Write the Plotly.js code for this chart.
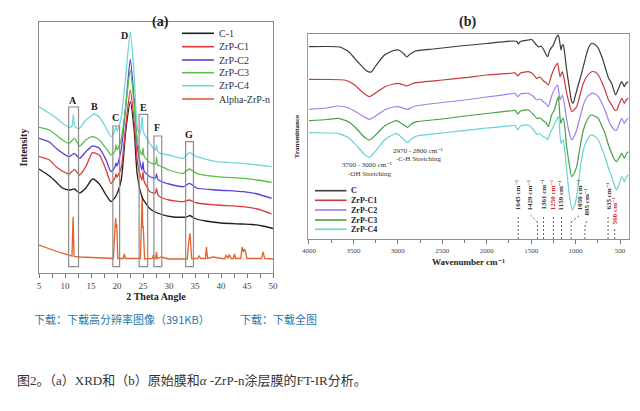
<!DOCTYPE html>
<html><head><meta charset="utf-8">
<script src="https://cdn.plot.ly/plotly-3.0.1.min.js"></script>
<style>html,body{margin:0;padding:0;background:#fff;}#chart{width:640px;height:411px;}</style>
</head><body><div id="chart"></div>
<script>
// ---------- (a) XRD data: 2-theta (deg) and intensity (a.u.) ----------
const xrdNames = ['C-1','ZrP-C1','ZrP-C2','ZrP-C3','ZrP-C4','Alpha-ZrP-n'];
const c1X = [5,7,8.3,9.5,10.8,11.8,12.8,14,15.3,16.6,17.9,18.85,19.8,20.8,21.7,22.56,23.3,23.9,24.9,26.4,28.3,30.8,33.4,34,35,37,40,44,46,48,50];
const c1Y = [104,97,91,85,83,84,80,85,94,89,78,71.3,77,93,143,171.3,143,98,75,64,59,56,56,57.5,54.5,52,50,49,48.5,47,44.5];
const zrpX = [5,7,8.3,9.5,10.8,11.8,12.8,14,15.3,16.6,17.9,18.85,19.6,19.8,20.0,20.8,21.7,22.56,23.3,24,24.8,25.0,25.2,26.35,27.4,27.6,27.8,28.3,30,32.75,33.9,35.3,39.2,44.3,47,49.75];
const zrpC1Y = [116.3,113,106.3,102,99,103.7,98,106.3,120.3,118,103,89.7,95,99,96,105,148,183,151,108,93,101,92,81.3,80,84.7,79,76,73,71.3,73,70,68,66.3,64,59];
const zrpC2Y = [134.7,131,124.7,120,116.3,119.7,114.7,121.3,127,124.7,113,101.3,106,110,107,123,168,213.7,173,123,103,111,102,96.3,95,99,94,92,89,86.3,89.7,85,83,81.3,79,74.7];
const zrpC3Y = [145.7,143,138,133,129.7,134.7,127,133,136.3,133,124.7,118,122,128,123,133,168,203,168,128,118,125,117,110.3,109,116,108,107,103,99.7,104,99.7,96.3,94.7,93,90.7];
const c4X = [5,7,8.3,9.5,10.8,11.35,11.6,11.85,12.3,12.8,14,15.3,15.6,16.6,17.9,18.85,19.55,19.8,20.05,20.8,21.7,22.56,23.3,24,24.5,24.8,25.1,25.9,26.5,27.4,27.6,27.8,28.3,30,32.75,33.9,35.3,39.2,44.3,47,49.75];
const c4Y = [166.3,159.7,155,149.7,145.7,147,158,147,145,144.7,153,158,159,156,145,136.3,142,146.3,142,155,198,241.3,198,143,140,156.3,141,133,128,123,128,122,119.7,118,114.7,120.3,116.3,111.3,109.7,108,106.3];
const alphaX = [5,7,9,10.8,11.35,11.55,11.75,13,16,19.3,19.55,19.75,19.85,19.95,20.15,21.2,21.4,21.6,24.5,24.7,24.85,24.95,25.05,25.3,26.8,27.0,27.2,27.45,27.6,27.75,28.5,30,33.5,33.75,33.9,34.0,34.1,34.35,35.5,35.8,36.1,37.0,37.2,37.4,38.5,40.7,41.0,41.3,41.6,41.9,42.4,42.6,42.8,43.8,44.05,44.3,44.5,44.7,45.0,47.8,48.1,48.4,50];
const alphaY = [28,24,20.5,18,17,56.3,16.5,16,15,14.5,38,55,45,49,14.5,14.5,19,14.5,14.5,43,77,45,47,14,14.5,18,14.5,14.5,21.3,14.5,16,14,14,28,35,39.7,36,14.5,14.5,17,14.5,14.5,26,14.5,16,14,18,14.5,18.5,14.5,14.5,19,14.5,14.5,26,21,24,22,14.5,14.5,21,14.5,14];
// peak boxes
const boxNames = ['A','C','E','F','G'];
const boxFrom = [10.7,19.2,24.25,27.1,33.2];
const boxTo = [12.6,20.5,25.9,28.6,34.7];
const boxTop = [166,147,158.7,137,131.3];
const boxBottom = 6.3;
const peakNames = ['A','B','C','D','E','F','G'];
const peakX = [11.6,15.6,19.7,21.4,25.1,27.75,33.9];
const peakY = [173,167,155.7,238,165.7,145.3,138.7];

// ---------- (b) FT-IR data: wavenumber (cm-1) and transmittance (a.u.) ----------
const irNames = ['C','ZrP-C1','ZrP-C2','ZrP-C3','ZrP-C4'];
const irCX = [4000,3800,3650,3550,3450,3350,3300,3250,3150,3050,2990,2930,2900,2860,2800,2600,2300,2000,1700,1660,1645,1620,1530,1494,1450,1420,1390,1363,1330,1314,1290,1250,1220,1194,1175,1164,1150,1138,1120,1100,1070,1044,1026,1007,970,932,900,875,850,819,790,744,700,669,630,594,550,510,481,465,452,430,407];
const irCY = [192.3,192.5,192,187,177,168,167,173,184,188.5,189,185,182,185,188,190,193,195.5,198,197.5,195,197.5,199,199.5,195,192,193,190,184,182.3,189,194,201,204,195,189,194,194,184,169,151,137.3,136,142,154,165.7,177,185.7,192,195.7,195,190.7,181,172.3,161,155.7,144,152,157.3,155,152.3,156,157.3];
const irC1X = [4000,3800,3600,3500,3400,3320,3250,3150,3050,2995,2930,2900,2860,2800,2500,2244,2000,1700,1682,1651,1620,1532,1480,1438,1400,1363,1330,1307,1270,1232,1202,1175,1150,1130,1100,1070,1044,1020,988,950,913,870,819,780,744,700,669,630,594,560,537,510,481,465,452,430,407];
const irC1Y = [159.7,159.5,159,155,147,142.3,146,152,155,155.7,154,153,154.5,156.3,159,161.3,164,166,166.3,163,166,167.3,165,160.7,162,158.3,156,154,164,172.3,175.7,162.3,167.3,161,145.7,135,127.3,129,132.3,144,155.7,163,167.3,167,164,156,149,139,134,129,129,135,140.7,138,135.7,139,140.7];
const irC2X = [4000,3800,3670,3550,3450,3320,3250,3150,3050,2995,2930,2889,2850,2800,2500,2244,2000,1700,1682,1651,1620,1532,1480,1438,1400,1363,1330,1307,1270,1232,1202,1175,1150,1130,1100,1070,1044,1020,988,950,913,870,819,780,744,700,669,630,594,560,537,510,481,465,452,430,407];
const irC2Y = [129.7,131,133,131,126,119.7,123,129,132,132.3,130.5,129.7,131.5,133,136.5,139,142,145.5,145.7,142.3,145,145.7,143,139,140,137.3,135,132.3,143,150.7,154,139,144,137,119,106,99,102,109,122,134,142,145.7,145,142.3,135,129,119,112.3,109,109,115,120.7,118,115.7,119,120.7];
const irC3X = [4000,3800,3670,3550,3450,3380,3320,3250,3150,3050,3013,2950,2889,2850,2788,2500,2244,2000,1700,1682,1651,1620,1532,1480,1438,1400,1363,1330,1307,1270,1239,1194,1175,1164,1150,1138,1120,1100,1070,1044,1020,988,950,913,870,827,790,744,700,669,630,594,560,537,510,481,465,452,430,407];
const irC3Y = [118.3,119.5,120.7,117,109,102,99,104,113,117.5,118.3,115,111.7,115,117.3,120,123,125.5,128.5,129,125,128,129,125,120.7,121,118.3,116,112.3,124,129,142.3,121,115.7,120,120.7,111,92.3,74,62.3,65,72.3,92,109,119,124,123,120.7,112,105.7,94,85.7,79,77.3,81,85.7,83,80.7,85,87.3];
const irC4X = [4000,3800,3670,3550,3450,3380,3320,3250,3150,3050,3013,2950,2889,2850,2788,2500,2132,2000,1700,1682,1651,1620,1532,1480,1438,1400,1363,1330,1314,1280,1250,1194,1175,1164,1150,1138,1120,1100,1070,1037,1010,988,950,913,870,827,790,744,700,669,630,594,560,537,510,481,465,452,430,407];
const irC4Y = [106.3,106,105.7,101,92,85,81.7,88,99,104.5,105.7,101,96.3,100,103,106,109.7,111,113.5,114,109,113,114,110,105,105,102.3,101,99,107,112.3,122.3,104,95.7,98,99,87,69,44,29,34,42.3,69,89,99,104,103,99,89,82.3,71,62.3,53,49,55,62.3,60,57.3,62,64];
// marked bands
const bandWn = [1645,1429,1361,1250,1159,1050,895,635,560];
const bandText = ['1645 cm⁻¹','1429 cm⁻¹','1361 cm⁻¹','1250 cm⁻¹','1159 cm⁻¹','1050 cm⁻¹','895 cm⁻¹','635 cm⁻¹','560 cm⁻¹'];

// ---------- styling ----------
const SERIF = "'Liberation Serif', 'DejaVu Serif', serif";
const W = 640, H = 411;
const px = x => x / W, py = y => 1 - y / H;
const xrdColors = ['#1e1e1e','#dd3a3c','#5a3fdc','#57c243','#70d6d8','#e2622a'];
const irColors = ['#3a3a3a','#c8393d','#9b82ea','#45a045','#6ad2d2'];
const wnPerPx = 3612 / 321;

const traces = [];
const xrdX = [c1X, zrpX, zrpX, zrpX, c4X, alphaX];
const xrdY = [c1Y, zrpC1Y, zrpC2Y, zrpC3Y, c4Y, alphaY];
// draw order: orange first, then C-1..C4
[5,0,1,2,3,4].forEach(i => traces.push({
  x: xrdX[i], y: xrdY[i], name: xrdNames[i], type: 'scatter', mode: 'lines',
  xaxis: 'x', yaxis: 'y', showlegend: false, hoverinfo: 'skip',
  line: {color: xrdColors[i], width: 1.3, shape: i === 5 ? 'linear' : 'spline', smoothing: 0.6}
}));
const irX = [irCX, irC1X, irC2X, irC3X, irC4X];
const irY = [irCY, irC1Y, irC2Y, irC3Y, irC4Y];
irX.forEach((xs, i) => traces.push({
  x: xs, y: irY[i], name: irNames[i], type: 'scatter', mode: 'lines',
  xaxis: 'x2', yaxis: 'y2', showlegend: false, hoverinfo: 'skip',
  line: {color: irColors[i], width: 1.2, shape: 'spline', smoothing: 0.5}
}));

const shapes = [];
const annotations = [];
// XRD boxes
boxNames.forEach((n, i) => shapes.push({type: 'rect', xref: 'x', yref: 'y', x0: boxFrom[i], x1: boxTo[i], y0: boxBottom, y1: boxTop[i], line: {color: '#8c8c8c', width: 1.2}}));
peakNames.forEach((n, i) => annotations.push({xref: 'x', yref: 'y', x: peakX[i], y: peakY[i], text: '<b>' + n + '</b>', showarrow: false, font: {family: SERIF, size: 10, color: '#222'}}));
// XRD legend (manual)
const legA = [33.3, 46.7, 60, 72.7, 85.7, 99];
xrdNames.forEach((n, i) => {
  shapes.push({type: 'line', xref: 'paper', yref: 'paper', x0: px(182), x1: px(214), y0: py(legA[i]), y1: py(legA[i]), line: {color: xrdColors[i], width: 1.6}});
  annotations.push({xref: 'paper', yref: 'paper', x: px(217), y: py(legA[i]), xanchor: 'left', yanchor: 'middle', text: n, showarrow: false, font: {family: SERIF, size: 10, color: '#333'}});
});
// IR legend (manual)
const legB = [190.7, 200.3, 210, 220, 229.3];
irNames.forEach((n, i) => {
  shapes.push({type: 'line', xref: 'paper', yref: 'paper', x0: px(315), x1: px(346.5), y0: py(legB[i]), y1: py(legB[i]), line: {color: irColors[i], width: 1.6}});
  annotations.push({xref: 'paper', yref: 'paper', x: px(349), y: py(legB[i]), xanchor: 'left', yanchor: 'middle', text: '<b>' + n + '</b>', showarrow: false, font: {family: SERIF, size: 8, color: '#222'}});
});
// IR band markers
const labelShift = {1429: -7, 1050: 9, 895: 2};
const labelBottom = {895: 22, 560: 13};
bandWn.forEach((wn, i) => {
  const col = (wn === 1250 || wn === 560) ? '#d0262c' : '#333';
  const sh = labelShift[wn] || 0;
  const lb = labelBottom[wn] !== undefined ? labelBottom[wn] : 27;
  const lx = wn - sh * wnPerPx;
  const dash = {color: '#666', width: 1, dash: '2px,2px'};
  if (sh !== 0) {
    shapes.push({type: 'line', xref: 'x2', yref: 'y2', x0: wn, x1: wn, y0: 0, y1: lb - 10, line: dash});
    shapes.push({type: 'line', xref: 'x2', yref: 'y2', x0: wn, x1: lx, y0: lb - 10, y1: lb - 3, line: dash});
  } else {
    shapes.push({type: 'line', xref: 'x2', yref: 'y2', x0: wn, x1: wn, y0: 0, y1: lb - 3, line: dash});
  }
  annotations.push({xref: 'x2', yref: 'y2', x: lx, y: lb, xanchor: 'center', yanchor: 'bottom', textangle: -90, text: '<b>' + bandText[i] + '</b>', showarrow: false, font: {family: SERIF, size: 7, color: col}});
});
// IR text notes
annotations.push({xref: 'x2', yref: 'y2', x: 3351, y: 74, text: '3700 - 3000 cm⁻¹', showarrow: false, font: {family: SERIF, size: 7, color: '#333'}});
annotations.push({xref: 'x2', yref: 'y2', x: 3314, y: 65.5, text: '-OH Stretching', showarrow: false, font: {family: SERIF, size: 7, color: '#333'}});
annotations.push({xref: 'x2', yref: 'y2', x: 2770, y: 88.5, text: '2970 - 2800 cm⁻¹', showarrow: false, font: {family: SERIF, size: 7, color: '#333'}});
annotations.push({xref: 'x2', yref: 'y2', x: 2770, y: 80, text: '-C-H Stretching', showarrow: false, font: {family: SERIF, size: 7, color: '#333'}});
// panel titles
annotations.push({xref: 'paper', yref: 'paper', x: px(150), y: py(12), text: '<b>(a)</b>', showarrow: false, font: {family: SERIF, size: 14, color: '#222'}});
annotations.push({xref: 'paper', yref: 'paper', x: px(478), y: py(12), text: '<b>(b)</b>', showarrow: false, font: {family: SERIF, size: 14, color: '#222'}});
// page text
const CJK = "'Noto Sans CJK SC', sans-serif";
annotations.push({xref: 'paper', yref: 'paper', x: px(32), y: py(329), xanchor: 'left', text: '下载：下载高分辨率图像（391KB）', showarrow: false, font: {family: CJK, size: 11, color: '#2a77aa'}});
annotations.push({xref: 'paper', yref: 'paper', x: px(238), y: py(329), xanchor: 'left', text: '下载：下载全图', showarrow: false, font: {family: CJK, size: 11, color: '#2a77aa'}});
annotations.push({xref: 'paper', yref: 'paper', x: px(15), y: py(390), xanchor: 'left', text: '图2。（a）XRD和（b）原始膜和<i>α</i> -ZrP-n涂层膜的FT-IR分析。', showarrow: false, font: {family: "'Liberation Serif', 'Noto Sans CJK SC', serif", size: 13, color: '#333'}});

const axisLine = {showline: true, mirror: true, linecolor: '#8c8c8c', linewidth: 1.2, showgrid: false, zeroline: false};
const layout = {
  width: W, height: H, margin: {l: 0, r: 0, t: 0, b: 0},
  paper_bgcolor: '#fff', plot_bgcolor: '#fff', showlegend: false,
  xaxis: Object.assign({}, axisLine, {domain: [px(39), px(273)], anchor: 'y', range: [5, 50], tick0: 5, dtick: 5,
    ticks: 'outside', ticklen: 4, tickcolor: '#777', minor: {dtick: 2.5, ticks: 'outside', ticklen: 4, tickcolor: '#777'},
    tickfont: {family: SERIF, size: 9, color: '#444'},
    title: {text: '<b>2 Theta Angle</b>', font: {family: SERIF, size: 10, color: '#222'}, standoff: 2}}),
  yaxis: Object.assign({}, axisLine, {domain: [py(273), py(22)], anchor: 'x', range: [0, 251], showticklabels: false, ticks: '',
    title: {text: '<b>Intensity</b>', font: {family: SERIF, size: 10, color: '#222'}, standoff: 8}}),
  xaxis2: Object.assign({}, axisLine, {domain: [px(308), px(629)], anchor: 'y2', range: [4011, 399], tick0: 0, dtick: 500,
    ticks: 'outside', ticklen: 4, tickcolor: '#777', minor: {dtick: 250, ticks: 'outside', ticklen: 3, tickcolor: '#777'},
    tickfont: {family: SERIF, size: 7, color: '#444'},
    title: {text: '<b>Wavenumber cm⁻¹</b>', font: {family: SERIF, size: 9, color: '#222'}, standoff: 5}}),
  yaxis2: Object.assign({}, axisLine, {domain: [py(239), py(34)], anchor: 'x2', range: [0, 205], showticklabels: false, ticks: '',
    linecolor: '#a0a0a0',
    title: {text: '<b>Transmittance</b>', font: {family: SERIF, size: 7, color: '#222'}, standoff: 6}}),
  shapes: shapes, annotations: annotations
};
Plotly.newPlot('chart', traces, layout, {displayModeBar: false, staticPlot: true});
</script></body></html>
